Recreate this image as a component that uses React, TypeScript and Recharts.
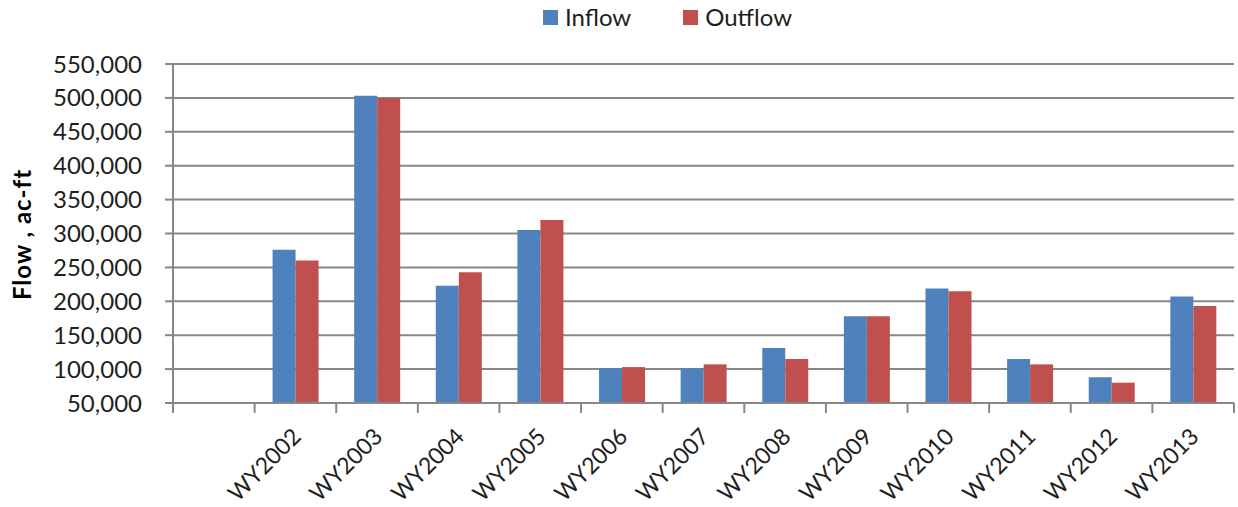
import React from 'react';
import { BarChart, Bar, XAxis, YAxis, CartesianGrid, Legend } from 'recharts';

const years = ['', 'WY2002', 'WY2003', 'WY2004', 'WY2005', 'WY2006', 'WY2007', 'WY2008', 'WY2009', 'WY2010', 'WY2011', 'WY2012', 'WY2013'];
const inflow = [null, 276000, 503000, 223000, 305000, 101000, 101000, 131000, 178000, 219000, 115000, 88000, 207000];
const outflow = [null, 260000, 500000, 243000, 320000, 103000, 107000, 115000, 178000, 215000, 107000, 80000, 193000];
const yTicks = [50000, 100000, 150000, 200000, 250000, 300000, 350000, 400000, 450000, 500000, 550000];

const data = years.map((y, i) => ({ year: y, Inflow: inflow[i], Outflow: outflow[i] }));

const W = 1238;
const H = 507;
const LEFT = 173;
const RIGHT = 4;
const BAND = (W - LEFT - RIGHT) / years.length;
const FONT = 'Lato, "Open Sans", sans-serif';
const GRID = '#878787';
const BLUE = '#4F81BD';
const RED = '#C0504D';

// category tick: boundary stubs + rotated label ending near the band centre
function XTick(props: any) {
  const { x, y, payload, index } = props;
  const last = index === years.length - 1;
  const ax = x + 7;
  const ay = y + 35;
  return (
    <g>
      <line x1={x - BAND / 2} y1={y} x2={x - BAND / 2} y2={y + 10} stroke={GRID} strokeWidth={2} />
      {last && <line x1={x + BAND / 2} y1={y} x2={x + BAND / 2} y2={y + 10} stroke={GRID} strokeWidth={2} />}
      <text
        x={ax}
        y={ay}
        textAnchor="end"
        transform={`rotate(-45, ${ax}, ${ay})`}
        fontFamily={FONT}
        fontSize={23}
        fill="#1e1e1e"
      >
        {payload.value}
      </text>
    </g>
  );
}

function YLabel(props: any) {
  const { viewBox } = props;
  const cx = viewBox.x + 21;
  const cy = viewBox.y + viewBox.height / 2 + 1;
  return (
    <text
      x={cx}
      y={cy}
      textAnchor="middle"
      dominantBaseline="central"
      transform={`rotate(-90, ${cx}, ${cy})`}
      fontFamily={FONT}
      fontWeight="bold"
      fontSize={24}
      letterSpacing={1}
      fill="#000"
    >
      Flow , ac-ft
    </text>
  );
}

function LegendBox() {
  const item = (color: string, label: string, mr: number) => (
    <div style={{ display: 'flex', alignItems: 'center', marginRight: mr }}>
      <span style={{ display: 'inline-block', width: 15, height: 15, background: color, marginRight: 7 }} />
      <span>{label}</span>
    </div>
  );
  return (
    <div style={{ display: 'flex', fontFamily: FONT, fontSize: 24, lineHeight: '26px', color: '#1e1e1e' }}>
      {item(BLUE, 'Inflow', 52)}
      {item(RED, 'Outflow', 0)}
    </div>
  );
}

export default function App() {
  return (
    <div style={{ position: 'absolute', left: 0, top: 0, width: W, height: H, background: '#fff' }}>
      <BarChart
        width={W}
        height={H}
        data={data}
        margin={{ top: 64, right: RIGHT, bottom: 0, left: 0 }}
        barCategoryGap="22%"
        barGap={0}
      >
        <CartesianGrid vertical={false} stroke={GRID} strokeWidth={2} />
        <XAxis
          dataKey="year"
          height={104}
          interval={0}
          tickLine={false}
          tickSize={0}
          tickMargin={0}
          axisLine={{ stroke: GRID, strokeWidth: 2 }}
          tick={<XTick />}
        />
        <XAxis xAxisId="top" dataKey="year" orientation="top" height={0} tick={false} tickLine={false} axisLine={{ stroke: BLUE, strokeWidth: 2 }} />
        <YAxis
          width={LEFT}
          domain={[50000, 550000]}
          ticks={yTicks}
          interval={0}
          tickSize={8}
          tickMargin={23}
          tickLine={{ stroke: GRID, strokeWidth: 2 }}
          axisLine={{ stroke: GRID, strokeWidth: 2 }}
          tickFormatter={(v: number) => v.toLocaleString('en-US')}
          tick={{ fontFamily: FONT, fontSize: 24, fill: '#1e1e1e' }}
          label={<YLabel />}
        />
        <YAxis yAxisId="right" orientation="right" width={0} domain={[50000, 550000]} tick={false} tickLine={false} axisLine={{ stroke: BLUE, strokeWidth: 2 }} />
        <Legend
          layout="horizontal"
          verticalAlign="middle"
          align="center"
          content={<LegendBox />}
          wrapperStyle={{ top: 4, left: 543, width: 'auto' }}
        />
        <Bar dataKey="Inflow" fill={BLUE} isAnimationActive={false} />
        <Bar dataKey="Outflow" fill={RED} isAnimationActive={false} />
      </BarChart>
    </div>
  );
}
